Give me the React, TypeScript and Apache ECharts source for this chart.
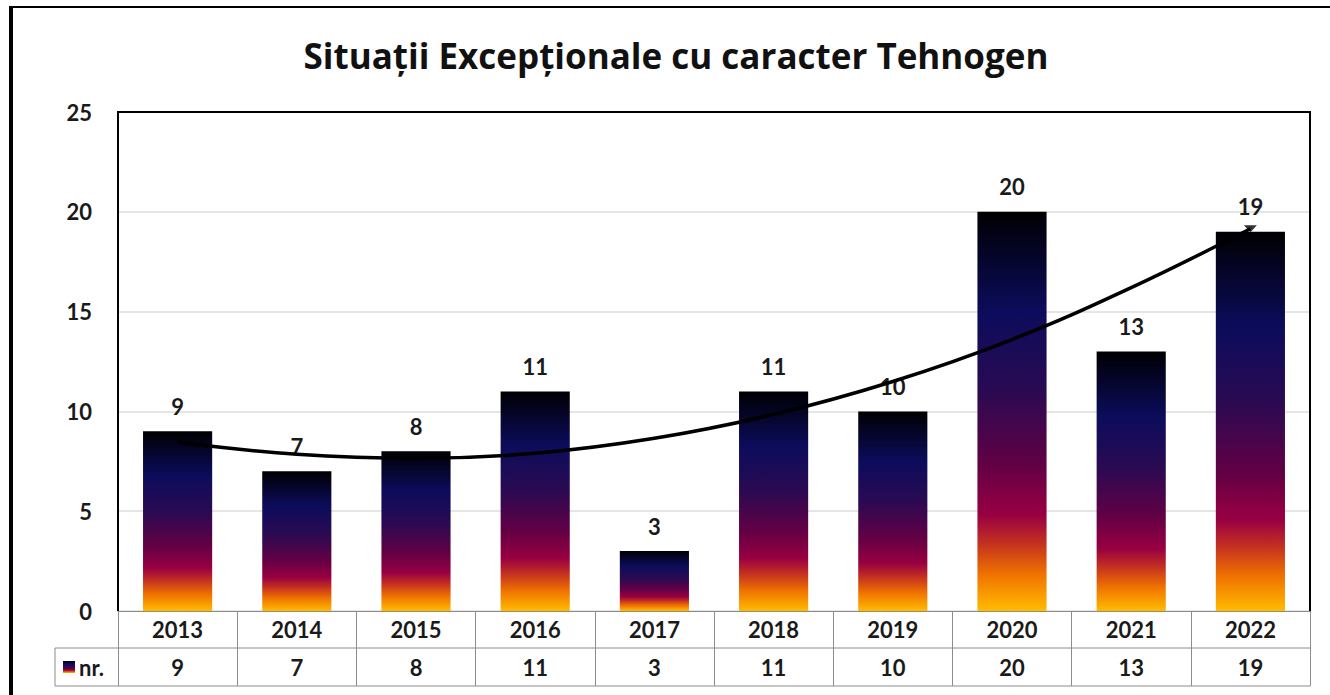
import React, { useEffect, useRef } from 'react';
import * as echarts from 'echarts';

const chartTitle = 'Situații Excepționale cu caracter Tehnogen';
const seriesName = 'nr.';
const years = ['2013', '2014', '2015', '2016', '2017', '2018', '2019', '2020', '2021', '2022'];
const counts = [9, 7, 8, 11, 3, 11, 10, 20, 13, 19];
// polynomial trend line values at each year
const trendValues = [8.45, 7.85, 7.65, 7.9, 8.65, 9.85, 11.5, 13.6, 16.2, 19.15];
const yMin = 0;
const yMax = 25;
const yInterval = 5;

const FONT = 'Lato';
const L = 118, T = 112, R = 1310, B = 611;
const ROW1 = 648, ROW2 = 686, LEG = 55;
const W = 1330, H = 695;

const barGradient = () => ({
  type: 'linear', x: 0, y: 0, x2: 0, y2: 1,
  colorStops: [
    { offset: 0, color: '#000000' },
    { offset: 0.07, color: '#03031c' },
    { offset: 0.25, color: '#0c0c5c' },
    { offset: 0.45, color: '#2a0a52' },
    { offset: 0.64, color: '#640044' },
    { offset: 0.76, color: '#980042' },
    { offset: 0.83, color: '#c43020' },
    { offset: 0.91, color: '#f07400' },
    { offset: 1, color: '#ffbc00' },
  ],
});

export default function App() {
  const ref = useRef<HTMLDivElement>(null);
  useEffect(() => {
    if (!ref.current) return;
    const chart = echarts.init(ref.current, null, { renderer: 'svg' });
    const gray = '#8c8c8c';
    const txt = { fontFamily: FONT, fontWeight: 'bold', fontSize: 22, color: '#1a1a1a' };
    chart.setOption({
      animation: false,
      backgroundColor: '#ffffff',
      grid: { left: L, top: T, width: R - L, height: B - T, show: false, containLabel: false },
      xAxis: [
        {
          type: 'category',
          data: years,
          position: 'bottom',
          boundaryGap: true,
          axisLine: { show: true, lineStyle: { color: gray, width: 1 } },
          axisTick: { show: true, length: ROW2 - B, lineStyle: { color: gray, width: 1 } },
          axisLabel: { margin: (ROW1 - B) / 2, verticalAlign: 'middle', ...txt },
        },
        {
          type: 'category',
          data: counts.map(String),
          position: 'bottom',
          boundaryGap: true,
          axisLine: { show: false },
          axisTick: { show: false },
          axisLabel: { margin: (ROW1 + ROW2) / 2 - B, verticalAlign: 'middle', ...txt },
        },
      ],
      yAxis: {
        type: 'value',
        min: yMin, max: yMax, interval: yInterval,
        axisLine: { show: false },
        axisTick: { show: false },
        splitLine: { show: true, lineStyle: { color: '#dcdcdc', width: 1.5 } },
        axisLabel: { margin: 26, ...txt },
      },
      series: [
        {
          name: seriesName,
          type: 'bar',
          data: counts,
          barWidth: '58%',
          itemStyle: { color: barGradient() },
          label: { show: true, position: 'top', distance: 14, ...txt },
          z: 2,
        },
        {
          name: 'trend',
          type: 'line',
          data: trendValues,
          symbol: 'none',
          smooth: 0.4,
          lineStyle: { color: '#000000', width: 3.5 },
          z: 5,
          silent: true,
        },
        {
          name: 'trendEnd',
          type: 'scatter',
          data: trendValues.map((v, i) => (i === trendValues.length - 1 ? v : '-')),
          symbol: 'triangle',
          symbolSize: [13, 7],
          symbolRotate: 180,
          itemStyle: { color: '#000000' },
          z: 6,
          silent: true,
        },
      ],
      graphic: [
        { type: 'line', shape: { x1: 11, y1: 7, x2: W, y2: 7 }, style: { stroke: '#000', lineWidth: 2 }, z: 100 },
        { type: 'line', shape: { x1: 11, y1: 6, x2: 11, y2: H }, style: { stroke: '#000', lineWidth: 4 }, z: 100 },
        { type: 'polyline', shape: { points: [[L, B], [L, T], [R, T], [R, B]] }, style: { stroke: '#000', lineWidth: 2, fill: 'none' }, z: 100 },
        { type: 'line', shape: { x1: LEG, y1: ROW1, x2: R, y2: ROW1 }, style: { stroke: gray, lineWidth: 1 }, z: 100 },
        { type: 'line', shape: { x1: LEG, y1: ROW2, x2: R, y2: ROW2 }, style: { stroke: gray, lineWidth: 1 }, z: 100 },
        { type: 'line', shape: { x1: LEG, y1: ROW1, x2: LEG, y2: ROW2 }, style: { stroke: gray, lineWidth: 1 }, z: 100 },
        { type: 'rect', shape: { x: 63, y: 661, width: 12, height: 12 }, style: { fill: barGradient() }, z: 100 },
        {
          type: 'text', x: 79, y: (ROW1 + ROW2) / 2,
          style: { text: seriesName, fontFamily: FONT, fontWeight: 'bold', fontSize: 22, fill: '#1a1a1a', verticalAlign: 'middle', align: 'left' },
          z: 100,
        },
        {
          type: 'text', x: 676, y: 55,
          style: { text: chartTitle, fontFamily: 'Open Sans', fontWeight: 'bold', fontSize: 35, fill: '#111', align: 'center', verticalAlign: 'middle' },
          z: 100,
        },
      ],
    });
    return () => chart.dispose();
  }, []);
  return <div ref={ref} style={{ position: 'fixed', left: 0, top: 0, width: W, height: H, background: '#fff' }} />;
}
